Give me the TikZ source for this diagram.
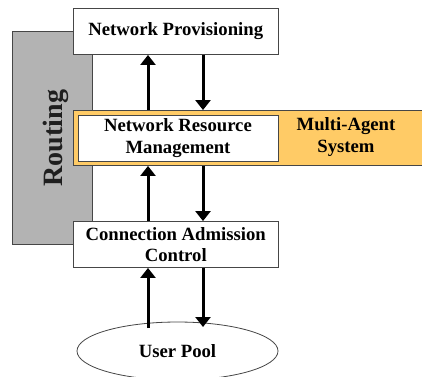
\documentclass[tikz,border=0pt]{standalone}
\usepackage{fontspec}
\setmainfont{Liberation Serif}
\usetikzlibrary{arrows.meta,shapes.geometric}
\definecolor{routegray}{RGB}{179,179,179}
\definecolor{masorange}{RGB}{255,203,102}
\definecolor{edgegray}{RGB}{70,70,70}
\tikzset{
  lbl/.style={font=\bfseries\fontsize{18.7}{21.5}\selectfont, align=center, text=black},
  block/.style={lbl, draw=edgegray, line width=0.9pt, fill=white, inner sep=0pt,
    minimum width=204.5pt, minimum height=46pt},
  flow/.style={line width=3pt, -{Triangle[width=15pt,length=10pt]}}
}
\begin{document}
\begin{tikzpicture}[x=1pt,y=-1pt]
  \useasboundingbox (0,0) rectangle (422,376);
  % routing column behind everything
  \node[draw=edgegray, line width=0.8pt, fill=routegray, inner sep=0pt,
        minimum width=79.5pt, minimum height=213pt] (routing) at (52.25,138) {};
  \node[font=\bfseries\fontsize{28}{30}\selectfont, text=black!88, rotate=90] (routingtxt) at (56,138) {Routing};
  % multi-agent band
  \node[draw=edgegray, line width=0.9pt, fill=masorange, inner sep=0pt,
        minimum width=352pt, minimum height=55pt] (band) at (249.5,138) {};
  \node[lbl] (mas) at (346,137) {Multi-Agent\\System};
  % layers
  \node[block] (np) at (175.75,31.5) {Network Provisioning};
  \node[block, minimum width=200pt] (nrm) at (178,138) {Network Resource\\Management};
  \node[block] (cac) at (175.75,244.5) {Connection Admission\\Control};
  \node[lbl, draw=edgegray, line width=0.8pt, fill=white, ellipse, inner sep=0pt,
        minimum width=201pt, minimum height=58pt] (pool) at (177.5,351) {User Pool};
  % columns for the up and down flows
  \coordinate (ux) at (148,0);
  \coordinate (dx) at (203,0);
  \coordinate (poolup) at (148,328);
  \coordinate (pooldown) at (203,327);
  \draw[flow] (band.north -| ux) -- (np.south -| ux);
  \draw[flow] (np.south -| dx) -- (band.north -| dx);
  \draw[flow] (cac.north -| ux) -- (band.south -| ux);
  \draw[flow] (band.south -| dx) -- (cac.north -| dx);
  \draw[flow] (poolup) -- (cac.south -| ux);
  \draw[flow] (cac.south -| dx) -- (pooldown);
\end{tikzpicture}
\end{document}
